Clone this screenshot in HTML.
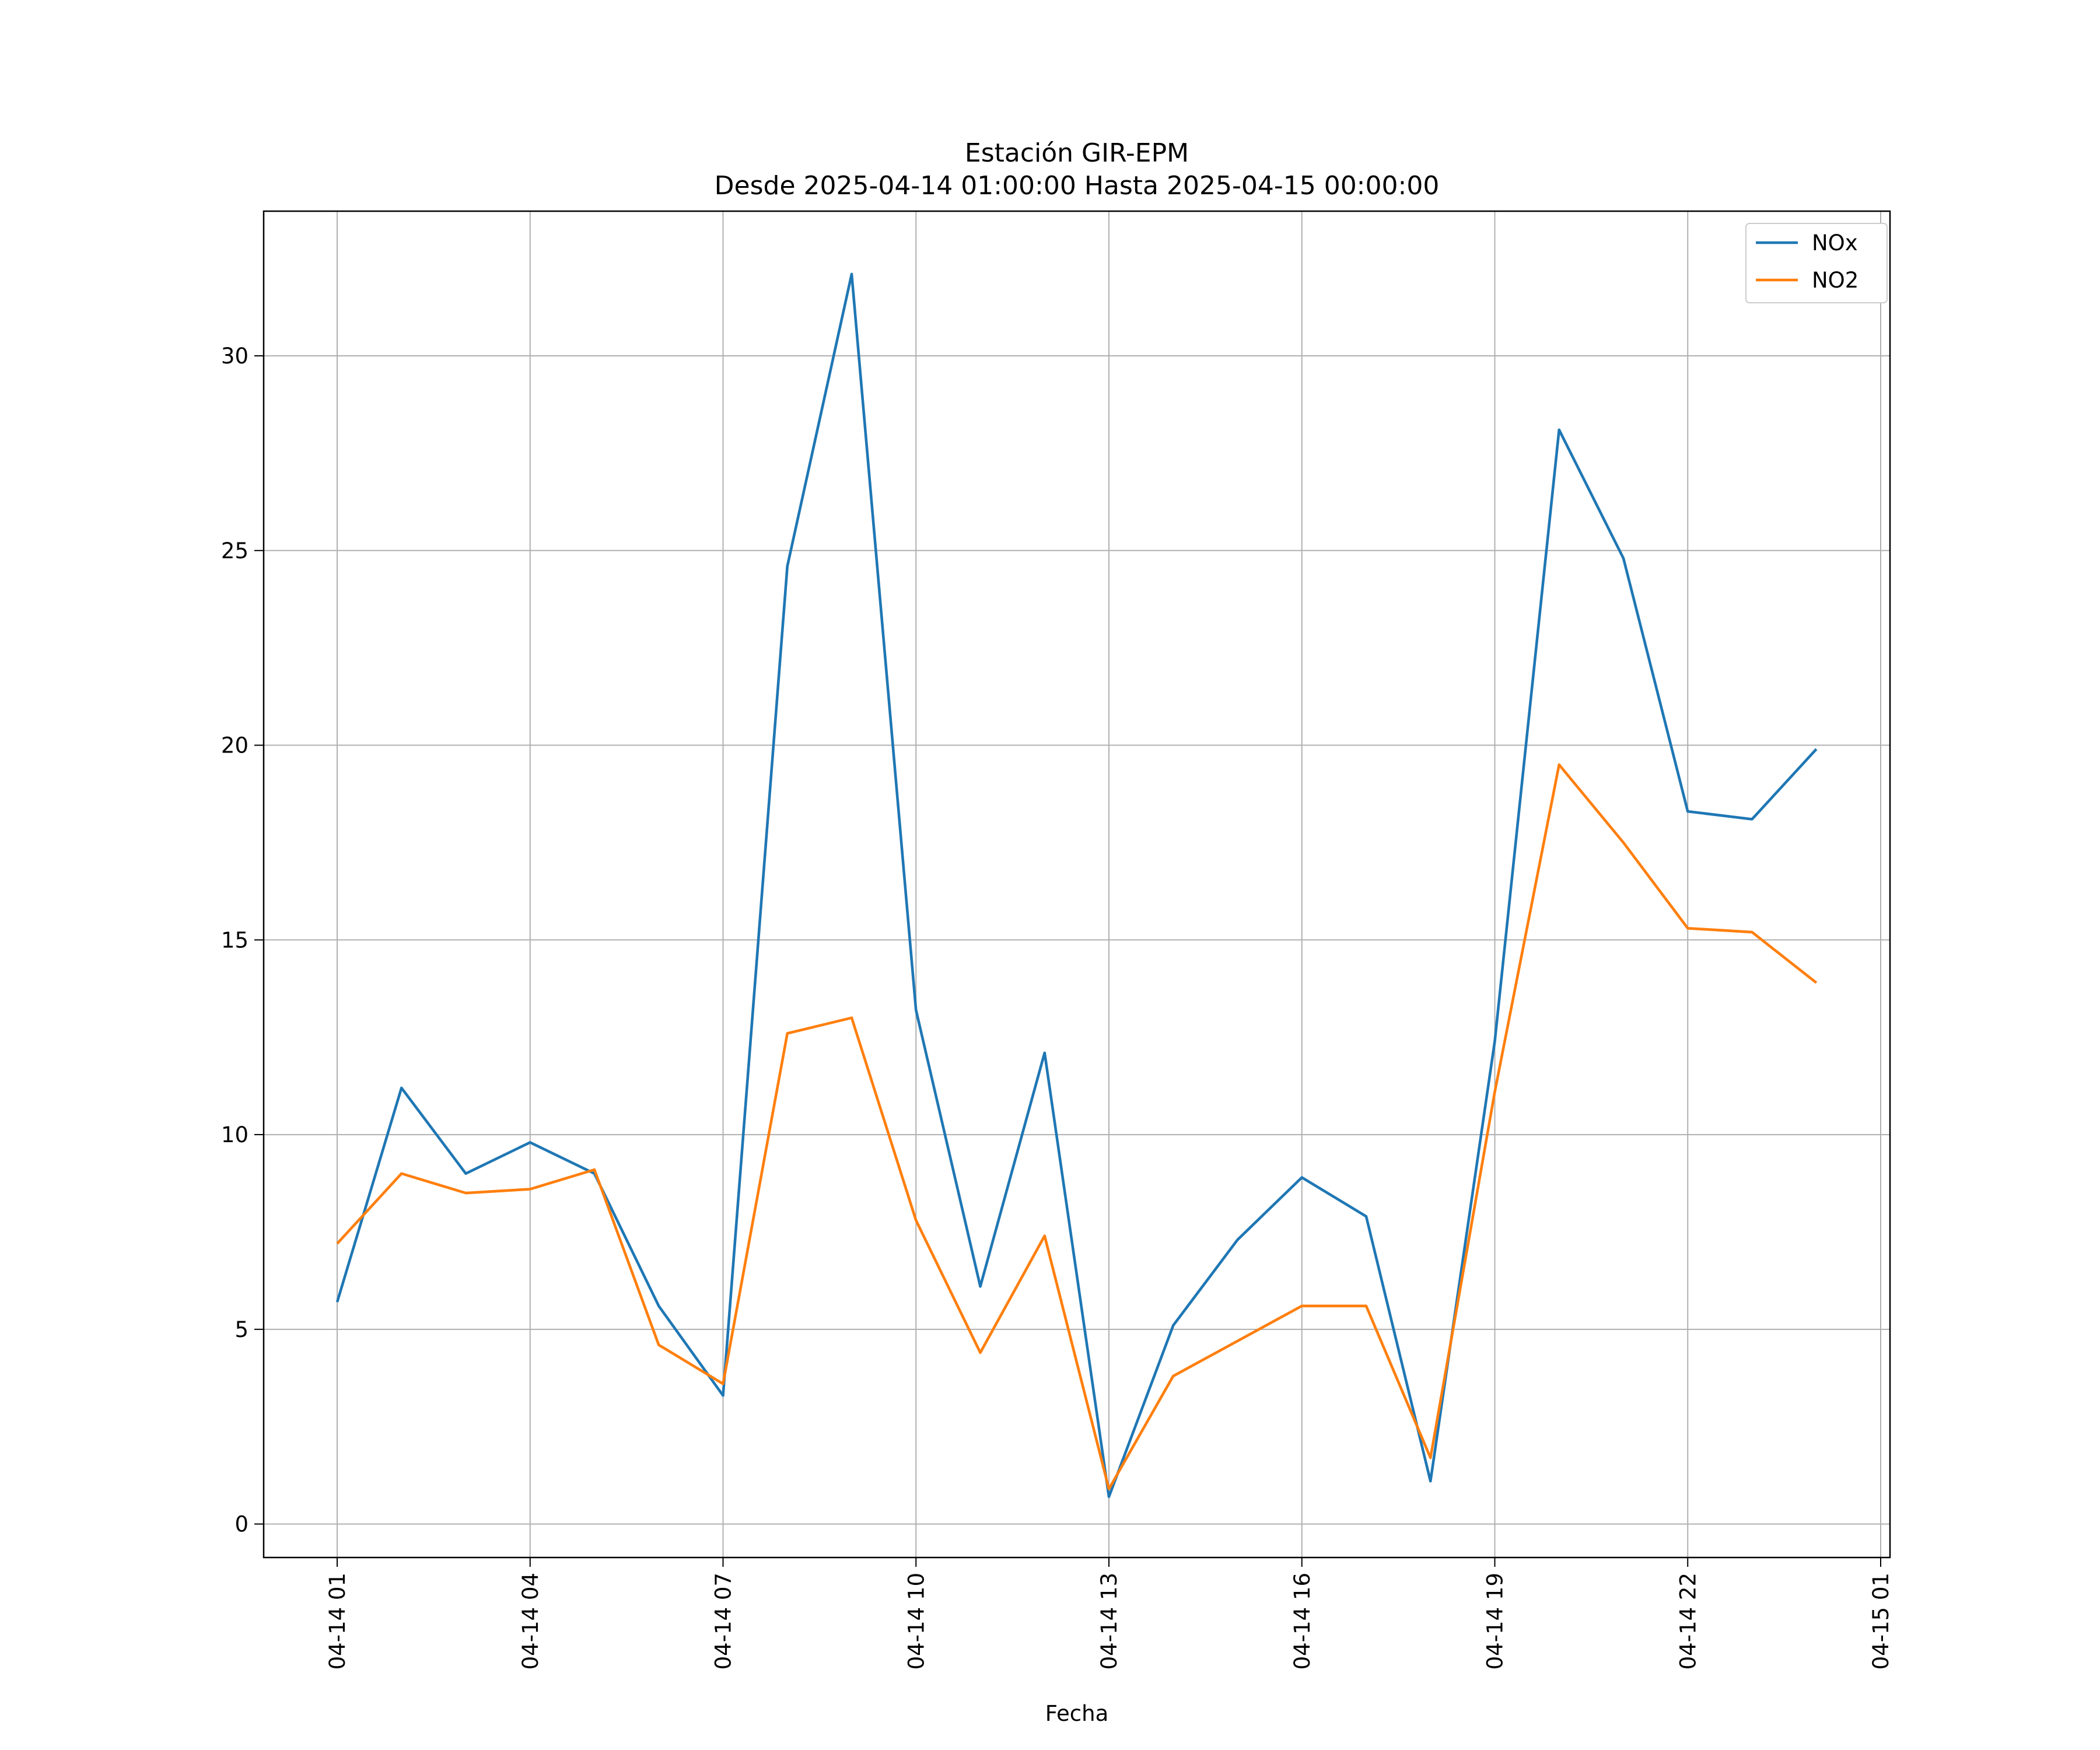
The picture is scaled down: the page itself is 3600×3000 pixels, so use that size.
<!DOCTYPE html>
<html><head><meta charset="utf-8"><style>body{margin:0;background:#fff}svg{display:block}text{font-family:"DejaVu Sans","Liberation Sans",sans-serif}</style></head>
<body>
<svg id="c" width="3600" height="3000" xmlns="http://www.w3.org/2000/svg"></svg>
<script>
const hours=[1,2,3,4,5,6,7,8,9,10,11,12,13,14,15,16,17,18,19,20,21,22,23,24];
const noxValues=[5.7,11.2,9.0,9.8,9.0,5.6,3.3,24.6,32.1,13.2,6.1,12.1,0.7,5.1,7.3,8.9,7.9,1.1,12.4,28.1,24.8,18.3,18.1,19.9];
const no2Values=[7.2,9.0,8.5,8.6,9.1,4.6,3.6,12.6,13.0,7.8,4.4,7.4,0.9,3.8,4.7,5.6,5.6,1.7,11.1,19.5,17.5,15.3,15.2,13.9];
const yTicks=[0,5,10,15,20,25,30];
const xTickHours=[1,4,7,10,13,16,19,22,25];
const xTickLabels=["04-14 01","04-14 04","04-14 07","04-14 10","04-14 13","04-14 16","04-14 19","04-14 22","04-15 01"];
const L=452,R=3240,T=362,B=2670;
const xS=h=>578+(h-1)*(3224-578)/24;
const yS=v=>2612.6-v*(2612.6-610)/30;
const svg=document.getElementById('c');const NS="http://www.w3.org/2000/svg";
function mk(t,a,p){const e=document.createElementNS(NS,t);for(const k in a)e.setAttribute(k,a[k]);(p||svg).appendChild(e);return e;}
const grid=mk('g',{});


xTickHours.forEach((h,i)=>{const x=xS(h);
 if(x<R) mk('line',{x1:x,x2:x,y1:T,y2:B,stroke:'#b0b0b0','stroke-width':2},grid);
 mk('line',{x1:x,x2:x,y1:B,y2:B+16,stroke:'#000','stroke-width':2});
 const t=mk('text',{transform:`translate(${x+13},${B+26}) rotate(-90)`,'text-anchor':'end','font-size':37});
 t.textContent=xTickLabels[i];
 
 
});
yTicks.forEach(v=>{const y=yS(v);
 mk('line',{x1:L,x2:R,y1:y,y2:y,stroke:'#b0b0b0','stroke-width':2},grid);
 mk('line',{x1:L-16,x2:L,y1:y,y2:y,stroke:'#000','stroke-width':2});
 const t=mk('text',{x:L-26,y:y+13,'text-anchor':'end','font-size':37});
 t.textContent=v;
 
 
});
function line(vals,color,name){const p=mk('polyline',{points:vals.map((v,i)=>xS(hours[i])+','+yS(v)).join(' '),fill:'none',stroke:color,'stroke-width':4.6,'stroke-linejoin':'round'});
 
 }
line(noxValues,'#1f77b4','nox-line');
line(no2Values,'#ff7f0e','no2-line');
const fr=mk('rect',{x:L,y:T,width:R-L,height:B-T,fill:'none',stroke:'#000','stroke-width':2.5});


const t1=mk('text',{x:1846,y:277,'text-anchor':'middle','font-size':44});t1.textContent='Estación GIR-EPM';


const t2=mk('text',{x:1846,y:333,'text-anchor':'middle','font-size':44});t2.textContent='Desde 2025-04-14 01:00:00 Hasta 2025-04-15 00:00:00';


const xl=mk('text',{x:1846,y:2950,'text-anchor':'middle','font-size':37});xl.textContent='Fecha';


const lg=mk('g',{});


mk('rect',{x:2993,y:383,width:242,height:136,rx:6,fill:'#fff',stroke:'#ccc','stroke-width':2},lg);
[['NOx','#1f77b4',416],['NO2','#ff7f0e',480]].forEach(([n,c,y])=>{
 mk('line',{x1:3010,x2:3082,y1:y,y2:y,stroke:c,'stroke-width':4.6},lg);
 const t=mk('text',{x:3106,y:y+13,'font-size':37},lg);t.textContent=n;
 
 
});
</script>
</body></html>
